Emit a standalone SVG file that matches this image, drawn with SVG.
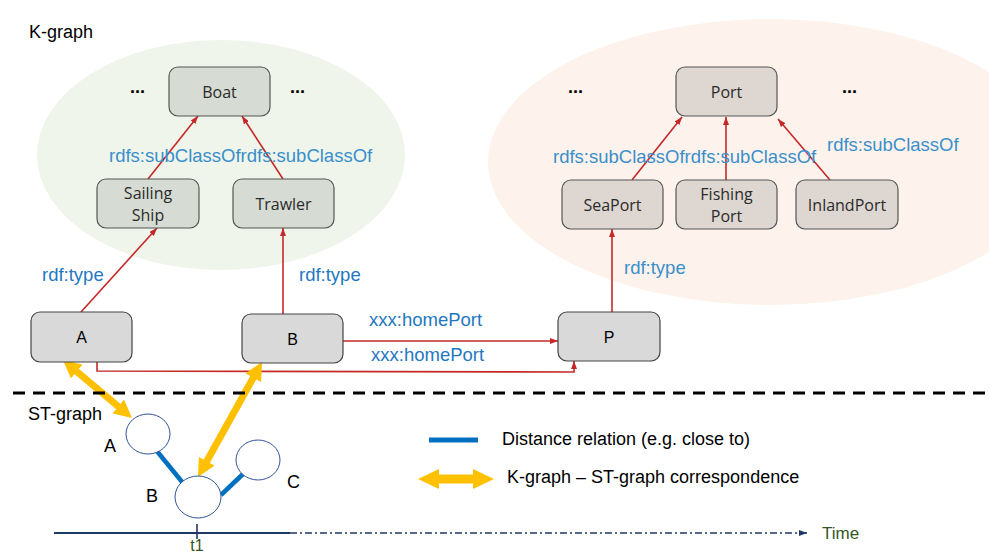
<svg xmlns="http://www.w3.org/2000/svg" width="989" height="556" viewBox="0 0 989 556">
<style>
  .lbl { font-family: "Liberation Sans", Arial, sans-serif; font-size: 18.5px; }
  .title { font-family: "Liberation Sans", Arial, sans-serif; font-size: 18px; fill: #000; }
  .nodeTxt { font-family: "Open Sans", "Noto Sans", sans-serif; font-size: 16px; fill: #2b2b2b; text-anchor: middle; }
  .instTxt { font-family: "Liberation Sans", Arial, sans-serif; font-size: 16px; fill: #000; text-anchor: middle; }
  .boatBox { fill: #d6dbd3; stroke: #555; stroke-width: 1.2; }
  .portBox { fill: #ddd6d1; stroke: #555; stroke-width: 1.2; }
  .instBox { fill: #d9d9d9; stroke: #444; stroke-width: 1.2; }
  .red { stroke: #c62828; stroke-width: 1.6; fill: none; marker-end: url(#redHead); }
  .blueLbl { fill: #1f78c1; }
  .lightLbl { fill: #3a8fcb; }
  .dots { font-family: "Liberation Sans", Arial, sans-serif; font-size: 18px; fill: #000; font-weight: bold; }
  .stNode { fill: #fff; stroke: #2f5597; stroke-width: 1; }
  .dist { stroke: #0070c0; stroke-width: 4.5; }
  .corr { stroke: #ffc000; stroke-width: 7; marker-start: url(#yHead); marker-end: url(#yHead); }
</style>
<defs>
  <marker id="redHead" viewBox="0 0 8 6" refX="8" refY="3" markerWidth="8" markerHeight="6" markerUnits="userSpaceOnUse" orient="auto">
    <path d="M0,0 L8,3 L0,6 z" fill="#c62828"/>
  </marker>
  <marker id="yHead" viewBox="0 0 18 18" refX="8" refY="9" markerWidth="18" markerHeight="18" markerUnits="userSpaceOnUse" orient="auto-start-reverse">
    <path d="M0,0 L18,9 L0,18 z" fill="#ffc000"/>
  </marker>
  <marker id="timeHead" viewBox="0 0 8 6" refX="8" refY="3" markerWidth="8" markerHeight="6" markerUnits="userSpaceOnUse" orient="auto">
    <path d="M0,0 L8,3 L0,6 z" fill="#1f3864"/>
  </marker>
</defs>
<rect width="989" height="556" fill="#fff"/>

<!-- background regions -->
<ellipse cx="221" cy="155" rx="184" ry="115" fill="#eff5ea"/>
<ellipse cx="770" cy="162" rx="282" ry="143" fill="#fdf3ec"/>

<text class="title" x="29" y="38">K-graph</text>
<text class="title" x="28" y="420">ST-graph</text>

<!-- dots -->
<text class="dots" x="130" y="93">...</text>
<text class="dots" x="290" y="93">...</text>
<text class="dots" x="568" y="93">...</text>
<text class="dots" x="842" y="93">...</text>

<!-- connectors -->
<g id="connectors">
  <line class="red" x1="148" y1="179" x2="198" y2="116"/>
  <line class="red" x1="283" y1="179" x2="242" y2="116"/>
  <line class="red" x1="81" y1="312" x2="157" y2="228"/>
  <line class="red" x1="283" y1="314" x2="283" y2="228"/>
  <line class="red" x1="343" y1="341" x2="558" y2="341"/>
  <polyline class="red" points="97,362 97,371 574,372 574,361"/>
  <line class="red" x1="612" y1="312" x2="612" y2="229"/>
  <line class="red" x1="632" y1="180" x2="682" y2="117"/>
  <line class="red" x1="726" y1="180" x2="726" y2="117"/>
  <line class="red" x1="830" y1="180" x2="778" y2="119"/>

  <text class="lbl lightLbl" x="109" y="162">rdfs:subClassOfrdfs:subClassOf</text>
  <text class="lbl lightLbl" x="553" y="163">rdfs:subClassOfrdfs:subClassOf</text>
  <text class="lbl lightLbl" x="827" y="151">rdfs:subClassOf</text>
  <text class="lbl blueLbl" x="42" y="281">rdf:type</text>
  <text class="lbl blueLbl" x="299" y="281">rdf:type</text>
  <text class="lbl lightLbl" x="624" y="274">rdf:type</text>
  <text class="lbl blueLbl" x="369" y="326">xxx:homePort</text>
  <text class="lbl blueLbl" x="371" y="361">xxx:homePort</text>

  <!-- ST-graph distance relations -->
  <line class="dist" x1="156" y1="450" x2="183" y2="483"/>
  <line class="dist" x1="243" y1="474" x2="221" y2="495"/>

  <!-- correspondences -->
  <line class="corr" x1="70.66" y1="366.44" x2="124.34" y2="411.56"/>
  <line class="corr" x1="257.14" y1="370.74" x2="202.86" y2="468.26"/>
</g>

<!-- K-graph nodes -->
<g id="boat"><rect class="boatBox" x="169" y="67" width="101" height="49" rx="9"/><text class="nodeTxt" x="219.5" y="98">Boat</text></g>
<g id="sailingShip"><rect class="boatBox" x="97" y="179" width="102" height="49" rx="9"/><text class="nodeTxt" x="148" y="199">Sailing</text><text class="nodeTxt" x="148" y="221">Ship</text></g>
<g id="trawler"><rect class="boatBox" x="233" y="179" width="101" height="49" rx="9"/><text class="nodeTxt" x="283.5" y="210">Trawler</text></g>

<g id="port"><rect class="portBox" x="676" y="67" width="101" height="49" rx="9"/><text class="nodeTxt" x="726.5" y="98">Port</text></g>
<g id="seaPort"><rect class="portBox" x="562" y="180" width="101" height="49" rx="9"/><text class="nodeTxt" x="612.5" y="211">SeaPort</text></g>
<g id="fishingPort"><rect class="portBox" x="676" y="180" width="101" height="49" rx="9"/><text class="nodeTxt" x="726.5" y="200">Fishing</text><text class="nodeTxt" x="726.5" y="222">Port</text></g>
<g id="inlandPort"><rect class="portBox" x="796" y="180" width="102" height="49" rx="9"/><text class="nodeTxt" x="847" y="211">InlandPort</text></g>

<g id="instA"><rect class="instBox" x="31" y="312" width="101" height="50" rx="9"/><text class="instTxt" x="81.5" y="343">A</text></g>
<g id="instB"><rect class="instBox" x="242" y="314" width="101" height="49" rx="9"/><text class="instTxt" x="292.5" y="345">B</text></g>
<g id="instP"><rect class="instBox" x="558" y="312" width="102" height="49" rx="9"/><text class="instTxt" x="609" y="343">P</text></g>

<!-- separator -->
<line x1="13" y1="393" x2="989" y2="393" stroke="#000" stroke-width="3" stroke-dasharray="12 8"/>

<!-- ST-graph nodes -->
<g id="stA"><ellipse class="stNode" cx="148" cy="434" rx="22" ry="20"/><text class="title" x="104" y="452">A</text></g>
<g id="stB"><ellipse class="stNode" cx="198" cy="497" rx="23" ry="21"/><text class="title" x="146" y="502">B</text></g>
<g id="stC"><ellipse class="stNode" cx="258" cy="460" rx="22" ry="20"/><text class="title" x="287" y="488">C</text></g>

<!-- legend -->
<g id="legend">
  <line x1="429" y1="440" x2="478" y2="440" stroke="#0070c0" stroke-width="5"/>
  <text class="title" x="502" y="445">Distance relation (e.g. close to)</text>
  <polygon points="418,479 439,469 439,474.5 473,474.5 473,469 494,479 473,489 473,483.5 439,483.5 439,489" fill="#ffc000"/>
  <text class="title" x="507" y="483">K-graph – ST-graph correspondence</text>
</g>

<!-- timeline -->
<g id="timeline">
  <line x1="54" y1="533" x2="290" y2="533" stroke="#1f3864" stroke-width="2"/>
  <line x1="290" y1="533" x2="807" y2="533" stroke="#1f3864" stroke-width="1.6" stroke-dasharray="7 3 2 3" marker-end="url(#timeHead)"/>
  <line x1="197" y1="524" x2="197" y2="539" stroke="#1f3864" stroke-width="1.6"/>
  <text x="197" y="551" text-anchor="middle" font-family="'Liberation Sans', Arial, sans-serif" font-size="16" fill="#375623">t1</text>
  <text x="822" y="539" font-family="'Liberation Sans', Arial, sans-serif" font-size="17" fill="#375623">Time</text>
</g>
</svg>
